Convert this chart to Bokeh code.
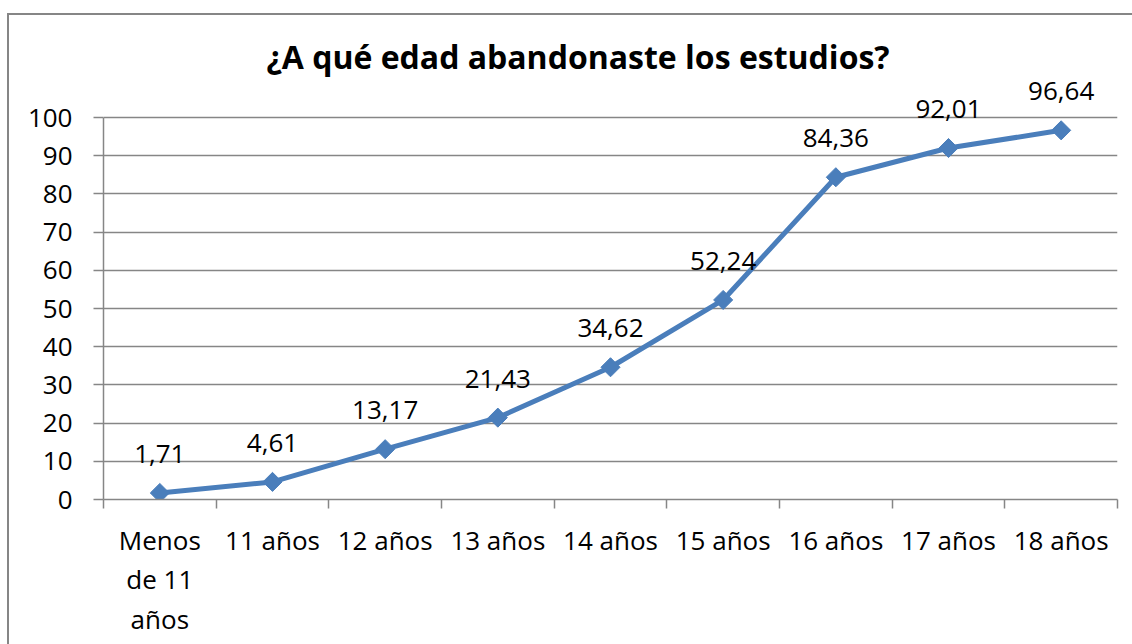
import numpy as np
from bokeh.plotting import figure
from bokeh.models import (ColumnDataSource, FixedTicker, Range1d, LabelSet)
from bokeh.core.properties import value
from bokeh.embed import file_html
from bokeh.resources import INLINE

# ---- data ----
categories = ["Menos\nde 11\naños", "11 años", "12 años", "13 años", "14 años",
              "15 años", "16 años", "17 años", "18 años"]
values = [1.71, 4.61, 13.17, 21.43, 34.62, 52.24, 84.36, 92.01, 96.64]
y_ticks = [0, 10, 20, 30, 40, 50, 60, 70, 80, 90, 100]
title_text = "¿A qué edad abandonaste los estudios?"

FONT = "Open Sans"
GRID = "#868686"
BLUE = "#4A7EBB"

n = len(categories)
xs = [i + 0.5 for i in range(n)]
labels = [f"{v:.2f}".replace(".", ",") for v in values]
src = ColumnDataSource(dict(x=xs, y=values, label=labels))

W, H = 1132, 644
# frame: x 103..1117, y 78..499 ; value 100 sits at y=117
p = figure(width=W, height=H, output_backend="svg", toolbar_location=None,
           x_range=Range1d(0, n), y_range=Range1d(0, 110.21),
           min_border_left=103, min_border_right=15, min_border_top=78,
           min_border_bottom=145)
p.outline_line_color = None
p.background_fill_color = "white"
p.border_fill_color = None
# outer chart border (left and top edges visible), drawn behind the canvas
p.styles = {
    "background-color": "white",
    "background-image": f"linear-gradient({GRID}, {GRID}), linear-gradient({GRID}, {GRID})",
    "background-size": "2px 640px, 1130px 2px",
    "background-position": "7px 13px, 7px 13px",
    "background-repeat": "no-repeat",
}

# title
p.title.text = title_text
p.title.align = "left"
p.title.text_font = FONT
p.title.text_font_style = "bold"
p.title.text_font_size = "32px"
p.title.text_color = "black"
p.title.offset = 163
p.title.standoff = 2

# grid
p.xgrid.grid_line_color = None
p.ygrid.ticker = FixedTicker(ticks=y_ticks)
p.ygrid.grid_line_color = GRID
p.ygrid.grid_line_width = 1.5

# y axis
ya = p.yaxis[0]
ya.ticker = FixedTicker(ticks=y_ticks)
ya.bounds = (0, 100)
ya.axis_line_color = GRID
ya.axis_line_width = 1.5
ya.major_tick_line_color = GRID
ya.major_tick_line_width = 1.5
ya.major_tick_out = 10
ya.major_tick_in = 0
ya.minor_tick_line_color = None
ya.major_label_standoff = 21
ya.major_label_text_font = FONT
ya.major_label_text_font_size = "26px"
ya.major_label_text_color = "black"

# x axis: labels at centers, minor ticks at category boundaries
xa = p.xaxis[0]
xa.ticker = FixedTicker(ticks=xs, minor_ticks=list(range(n + 1)))
xa.major_label_overrides = {x: c for x, c in zip(xs, categories)}
xa.axis_line_color = GRID
xa.axis_line_width = 1.5
xa.major_tick_line_color = None
xa.major_tick_out = 0
xa.major_tick_in = 0
xa.minor_tick_line_color = GRID
xa.minor_tick_line_width = 1.5
xa.minor_tick_out = 9
xa.minor_tick_in = 0
xa.major_label_standoff = 13
xa.major_label_text_font = FONT
xa.major_label_text_font_size = "26px"
xa.major_label_text_color = "black"
xa.major_label_text_line_height = 1.1

# series
p.line("x", "y", source=src, line_color=BLUE, line_width=5)
p.scatter("x", "y", source=src, marker="square", size=13.5, angle=np.pi / 4,
          fill_color=BLUE, line_color=BLUE)
p.add_layout(LabelSet(x="x", y="y", text="label", source=src,
                      text_font=value(FONT), text_font_size="26px",
                      text_color="black", text_align="center",
                      text_baseline="alphabetic", y_offset=30))

open("out.html", "w").write(file_html(p, INLINE))
